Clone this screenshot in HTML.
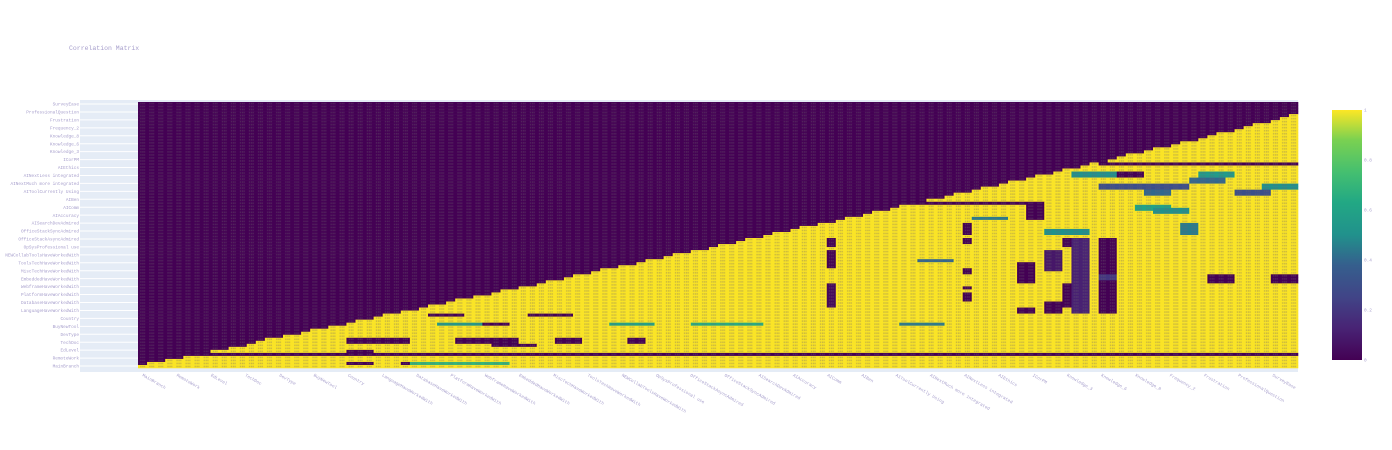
<!DOCTYPE html>
<html><head><meta charset="utf-8"><style>
html,body{margin:0;padding:0;background:#fff;width:1392px;height:450px;overflow:hidden}
svg text{font-family:"Liberation Mono",monospace;fill:#a79fcc}
</style></head><body>
<svg id="chart" width="1392" height="450" xmlns="http://www.w3.org/2000/svg">
<text x="69" y="50" font-size="6.5">Correlation Matrix</text>
<rect x="80" y="100" width="1218" height="272" fill="#e5ecf6"/>
<g id="ygrid"></g>
<g id="cells"></g>
<defs>
<pattern id="ann" x="138" y="102" width="9.0625" height="3.0227" patternUnits="userSpaceOnUse">
<rect x="2.2" y="0.7" width="1.3" height="1.6" fill="rgba(110,100,110,0.35)"/>
<rect x="4.2" y="0.7" width="1.3" height="1.6" fill="rgba(110,100,110,0.35)"/>
<rect x="5.9" y="0.7" width="1.3" height="1.6" fill="rgba(110,100,110,0.3)"/>
</pattern>
<linearGradient id="vir" x1="0" y1="1" x2="0" y2="0">
<stop offset="0" stop-color="#440154"/><stop offset="0.13" stop-color="#482475"/><stop offset="0.25" stop-color="#414487"/><stop offset="0.38" stop-color="#355f8d"/><stop offset="0.5" stop-color="#21918c"/><stop offset="0.63" stop-color="#22a884"/><stop offset="0.75" stop-color="#44bf70"/><stop offset="0.88" stop-color="#7ad151"/><stop offset="1" stop-color="#fde725"/></linearGradient></defs>
<rect x="138" y="102" width="1160" height="266" fill="url(#ann)"/>
<g id="ylabels"></g>
<g id="xlabels"></g>
<rect x="1332" y="110" width="30" height="250" fill="url(#vir)"/>
<g id="cbticks"></g>
</svg>
<script>
const yLabels=["SurveyEase","ProfessionalQuestion","Frustration","Frequency_2","Knowledge_8","Knowledge_6","Knowledge_3","ICorPM","AIEthics","AINextLess integrated","AINextMuch more integrated","AIToolCurrently Using","AIBen","AIComm","AIAccuracy","AISearchDevAdmired","OfficeStackSyncAdmired","OfficeStackAsyncAdmired","OpSysProfessional use","NEWCollabToolsHaveWorkedWith","ToolsTechHaveWorkedWith","MiscTechHaveWorkedWith","EmbeddedHaveWorkedWith","WebframeHaveWorkedWith","PlatformHaveWorkedWith","DatabaseHaveWorkedWith","LanguageHaveWorkedWith","Country","BuyNewTool","DevType","TechDoc","EdLevel","RemoteWork","MainBranch"];
const xLabels=yLabels.slice().reverse();
const cbTicks=[0,0.2,0.4,0.6,0.8,1];
const cbLabels=["0","0.2","0.4","0.6","0.8","1"];
// patches: [colStart, colEnd, rowStart, rowEnd, value]
const patchCols0=[5,106,85,76,76,76,91,91,91,91,91,103,106,106,102,102,100,100,97,97,118,125,98,115,103,117,32,43,38,23,35,46,54,23,10,39,23,29,38,33,52,61,84,106,111,124,110,92,80,100,86,30,108,116,121,112];
const patchCols1=[127,127,97,76,76,76,91,91,91,91,91,104,107,107,102,102,101,101,98,98,120,127,99,116,107,120,35,47,40,29,41,48,55,25,11,43,25,30,40,37,56,68,88,115,113,127,113,95,83,104,89,40,110,119,124,115];
const patchRow0=[83,20,33,45,49,60,40,45,55,61,63,45,45,57,45,60,49,66,53,68,57,57,33,40,23,23,70,70,73,78,78,78,78,82,80,80,86,86,86,73,73,73,73,27,29,27,34,38,30,42,52,86,23,25,29,35];
const patchRow1=[83,20,33,47,54,67,43,46,56,61,65,69,69,58,47,67,55,69,59,69,59,59,38,43,24,24,70,70,73,79,79,79,79,82,80,80,86,86,86,73,73,73,73,28,30,28,35,38,31,43,52,86,24,26,30,36];
const patchVal=[0,0,0,0,0,0.03,0,0,0,0,0,0.12,0,0.2,0,0,0.08,0,0,0,0,0,0,0.45,0.5,0.55,0,0,0,0,0,0,0,0,0,0,0,0,0,0.55,0.6,0.65,0.45,0.3,0.4,0.5,0.6,0.45,0.35,0.5,0.4,0.7,0,0.4,0.3,0.5];
const NC=128,NR=88;
const X0=138,X1=1298,Y0=102,Y1=368;
const cw=(X1-X0)/NC, rh=(Y1-Y0)/NR;
const xPos=c=>X0+c*cw, yPos=r=>Y0+r*rh;
const topRow=c=>Math.round(4+83*Math.pow(1-c/127,0.93));
const stops=[[0,[68,1,84]],[0.13,[72,36,117]],[0.25,[65,68,135]],[0.38,[53,95,141]],[0.5,[33,145,140]],[0.63,[34,168,132]],[0.75,[68,191,112]],[0.88,[122,209,81]],[1,[250,228,38]]];
function vir(v){for(let i=1;i<stops.length;i++){if(v<=stops[i][0]){const a=stops[i-1],b=stops[i],t=(v-a[0])/(b[0]-a[0]);return 'rgb('+a[1].map((x,k)=>Math.round(x+(b[1][k]-x)*t)).join(',')+')';}}return 'rgb(250,228,38)';}
const z=[];
for(let r=0;r<NR;r++){z.push([]);for(let c=0;c<NC;c++)z[r].push(r>=topRow(c)?1:0);}
for(let p=0;p<patchVal.length;p++){for(let r=patchRow0[p];r<=patchRow1[p];r++)for(let c=patchCols0[p];c<=patchCols1[p];c++){if(r<NR&&c<NC&&r>=topRow(c))z[r][c]=patchVal[p];}}
const NS='http://www.w3.org/2000/svg';
const cells=document.getElementById('cells');
for(let r=0;r<NR;r++){let c=0;while(c<NC){let e=c;while(e+1<NC&&z[r][e+1]===z[r][c])e++;
const el=document.createElementNS(NS,'rect');
el.setAttribute('x',xPos(c).toFixed(2));el.setAttribute('y',yPos(r).toFixed(2));
el.setAttribute('width',((e-c+1)*cw+0.3).toFixed(2));el.setAttribute('height',(rh+0.3).toFixed(2));
el.setAttribute('fill',vir(z[r][c]));


cells.appendChild(el);c=e+1;}}
const yg=document.getElementById('ygrid'),yl=document.getElementById('ylabels');
yLabels.forEach((lab,i)=>{const y=104+i*7.94;
const g=document.createElementNS(NS,'line');g.setAttribute('x1',80);g.setAttribute('x2',138);g.setAttribute('y1',y);g.setAttribute('y2',y);g.setAttribute('stroke','#fff');g.setAttribute('stroke-width','1');


yg.appendChild(g);
const t=document.createElementNS(NS,'text');t.setAttribute('x',79);t.setAttribute('y',y+1.6);t.setAttribute('font-size','4.4');t.setAttribute('text-anchor','end');t.textContent=lab;


yl.appendChild(t);});
const xl=document.getElementById('xlabels');
xLabels.forEach((lab,i)=>{const x=142+i*(1130/(xLabels.length-1));
const t=document.createElementNS(NS,'text');t.setAttribute('x',x);t.setAttribute('y',376);t.setAttribute('font-size','4.4');t.setAttribute('transform','rotate(30 '+x+' 376)');t.textContent=lab;


xl.appendChild(t);});
const cb=document.getElementById('cbticks');
cbTicks.forEach((v,i)=>{const t=document.createElementNS(NS,'text');t.setAttribute('x',1364);t.setAttribute('y',(360-v*250+1.5).toFixed(1));t.setAttribute('font-size','4.4');t.textContent=cbLabels[i];


cb.appendChild(t);});
</script>
</body></html>
